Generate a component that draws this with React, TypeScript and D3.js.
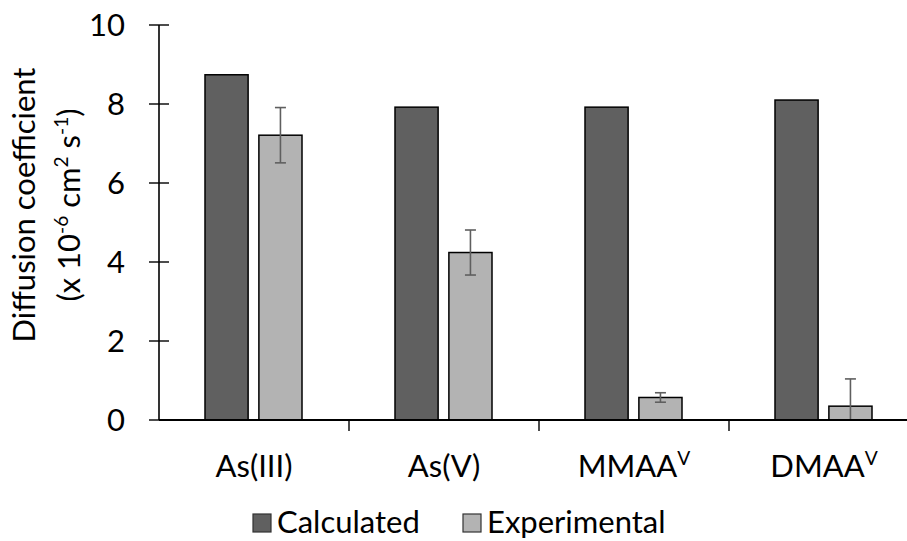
import React from "react";
import * as d3 from "d3";

const categories = ["As(III)", "As(V)", "MMAA", "DMAA"];
const categorySup = ["", "", "V", "V"];
const seriesNames = ["Calculated", "Experimental"];
const calculated = [8.74, 7.92, 7.92, 8.1];
const experimental = [7.21, 4.24, 0.57, 0.35];
const experimentalErr = [0.7, 0.57, 0.12, 0.69];
const yTicks = [0, 2, 4, 6, 8, 10];

const W = 907;
const H = 541;
const FONT = "Lato, 'Open Sans', sans-serif";
const FS = 31;
const colors = ["#606060", "#b3b3b3"];

export default function App() {
  const left = 159;
  const top = 25;
  const bottom = 420;
  const groupW = 190;

  const y = d3.scaleLinear().domain([0, 10]).range([bottom, top]);
  const x0 = d3
    .scaleBand<string>()
    .domain(categories)
    .range([left, left + groupW * categories.length])
    .paddingInner(0)
    .paddingOuter(0);
  const x1 = d3
    .scaleBand<string>()
    .domain(seriesNames)
    .range([46, 143])
    .paddingInner(0.2)
    .paddingOuter(0);

  const values = [calculated, experimental];

  return (
    <svg
      width={W}
      height={H}
      style={{ position: "absolute", left: 0, top: 0, background: "#fff" }}
      fontFamily={FONT}
    >
      {/* bars */}
      {categories.map((c, i) =>
        seriesNames.map((s, j) => {
          const v = values[j][i];
          const bx = (x0(c) as number) + (x1(s) as number);
          return (
            <rect
              key={c + s}
              x={bx}
              y={y(v)}
              width={x1.bandwidth()}
              height={y(0) - y(v)}
              fill={colors[j]}
              stroke="#000"
              strokeWidth={1.5}
            />
          );
        })
      )}
      {/* error bars */}
      {categories.map((c, i) => {
        const cx =
          (x0(c) as number) + (x1("Experimental") as number) + x1.bandwidth() / 2;
        const hi = experimental[i] + experimentalErr[i];
        const loRaw = experimental[i] - experimentalErr[i];
        const lo = Math.max(0, loRaw);
        const capW = 5.5;
        return (
          <g key={"err" + c} stroke="#5f5f5f" strokeWidth={1.6}>
            <line x1={cx} x2={cx} y1={y(hi)} y2={y(lo)} />
            <line x1={cx - capW} x2={cx + capW} y1={y(hi)} y2={y(hi)} />
            {loRaw >= 0 && (
              <line x1={cx - capW} x2={cx + capW} y1={y(lo)} y2={y(lo)} />
            )}
          </g>
        );
      })}
      {/* y axis */}
      <line x1={left} x2={left} y1={y(10)} y2={y(0)} stroke="#000" strokeWidth={1.6} />
      {yTicks.map((t) => (
        <g key={"yt" + t}>
          <line x1={left - 10} x2={left + 10} y1={y(t)} y2={y(t)} stroke="#000" strokeWidth={1.4} />
          <text x={125} y={y(t) + 11} textAnchor="end" fontSize={FS} fill="#000">
            {t}
          </text>
        </g>
      ))}
      {/* x axis */}
      <line x1={left} x2={W + 20} y1={y(0)} y2={y(0)} stroke="#000" strokeWidth={1.8} />
      {categories.map((c) => (
        <line
          key={"xt" + c}
          x1={(x0(c) as number) + groupW}
          x2={(x0(c) as number) + groupW}
          y1={y(0)}
          y2={y(0) + 11}
          stroke="#000"
          strokeWidth={1.4}
        />
      ))}
      {categories.map((c, i) => (
        <text
          key={"xl" + c}
          x={(x0(c) as number) + groupW / 2}
          y={477}
          textAnchor="middle"
          fontSize={FS}
          fill="#000"
        >
          {c}
          {categorySup[i] && (
            <tspan fontSize={FS * 0.62} dy={-12}>
              {categorySup[i]}
            </tspan>
          )}
        </text>
      ))}
      {/* y title */}
      <g transform="translate(35,205) rotate(-90)">
        <text x={0} y={0} textAnchor="middle" fontSize={FS} fill="#000">
          Diffusion coefficient
        </text>
        <text x={0} y={45} textAnchor="middle" fontSize={FS} fill="#000">
          (x 10
          <tspan fontSize={FS * 0.62} dy={-12}>-6</tspan>
          <tspan dy={12}> cm</tspan>
          <tspan fontSize={FS * 0.62} dy={-12}>2</tspan>
          <tspan dy={12}> s</tspan>
          <tspan fontSize={FS * 0.62} dy={-12}>-1</tspan>
          <tspan dy={12}>)</tspan>
        </text>
      </g>
      {/* legend */}
      {seriesNames.map((s, j) => {
        const lx = [253, 463][j];
        return (
          <g key={"lg" + s}>
            <rect x={lx} y={514} width={18} height={18} fill={colors[j]} stroke="#333" strokeWidth={1.2} />
            <text x={lx + 24} y={533} fontSize={FS} fill="#000">
              {s}
            </text>
          </g>
        );
      })}
    </svg>
  );
}
